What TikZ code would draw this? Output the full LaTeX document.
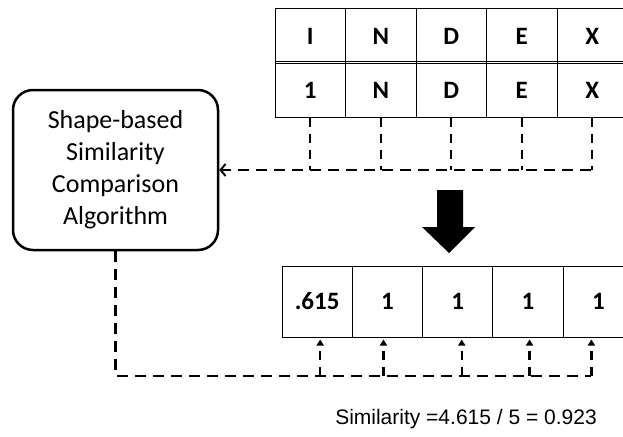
\documentclass[tikz,border=0pt]{standalone}
\usepackage{fontspec}
\setmainfont{Carlito}
\newfontfamily\arialf{Liberation Sans}
\usetikzlibrary{arrows.meta,calc}
\begin{document}
\begin{tikzpicture}[x=1pt,y=-1pt,
  cellA/.style={draw,line width=1pt,minimum width=70.5pt,minimum height=54pt,inner sep=0pt,font=\fontsize{25}{28}\selectfont\bfseries},
  cellB/.style={draw,line width=1pt,minimum width=70.3pt,minimum height=71pt,inner sep=0pt,font=\fontsize{25}{28}\selectfont\bfseries},
  dashln/.style={line width=2.4pt,dash pattern=on 11pt off 7pt},
  vdash/.style={line width=2.4pt,dash pattern=on 9pt off 7pt},
  algobox/.style={draw,line width=2.5pt,rounded corners=20pt,minimum width=205pt,minimum height=160pt,align=center,font=\fontsize{26}{32}\selectfont}]
\clip (0,0) rectangle (623,436);
% top table
\foreach \c [count=\i] in {I,N,D,E,X}{
  \node[cellA] (ta\i) at ({275+35.25+70.5*(\i-1)},36) {\c};
}
\foreach \c [count=\i] in {1,N,D,E,X}{
  \node[cellA] (tb\i) at ({275+35.25+70.5*(\i-1)},90) {\c};
}
\draw[line width=0.8pt] (ta1.south west) ++(0,-2) -- ++(360,0);
% algorithm box
\node[algobox] (algo) at (115.5,170) {Shape-based\\Similarity\\Comparison\\Algorithm};
% connectors top
\coordinate (hT) at (591,170);
\foreach \i in {1,...,5}{
  \draw[vdash] (tb\i.south) -- (tb\i.south |- hT);
}
\draw[dashln,-{Straight Barb[length=5pt,width=12pt,line width=2pt]}] (hT) -- (algo.east);
% big arrow
\fill (437,190) -- (463,190) -- (463,227) -- (475,227) -- (449,253) -- (422,227) -- (437,227) -- cycle;
% bottom table
\foreach \c [count=\i] in {.615,1,1,1,1}{
  \node[cellB] (bc\i) at ({282+35.15+70.3*(\i-1)},301.5) {\c};
}
% bottom connectors
\coordinate (hB) at (591,376);
\draw[dashln] (algo.south) -- (algo.south |- hB) -- (hB);
\foreach \i/\dx in {1/3,2/-4,3/4,4/1.5,5/-7}{
  \draw[vdash,-{Triangle[length=6pt,width=7pt]}] ([xshift=\dx pt]bc\i.south |- hB) -- ([xshift=\dx pt,yshift=-2pt]bc\i.south);
}
% result text
\node[font=\arialf\fontsize{21}{25}\selectfont] (res) at (466,419) {Similarity =4.615 / 5 = 0.923};
\end{tikzpicture}
\end{document}
